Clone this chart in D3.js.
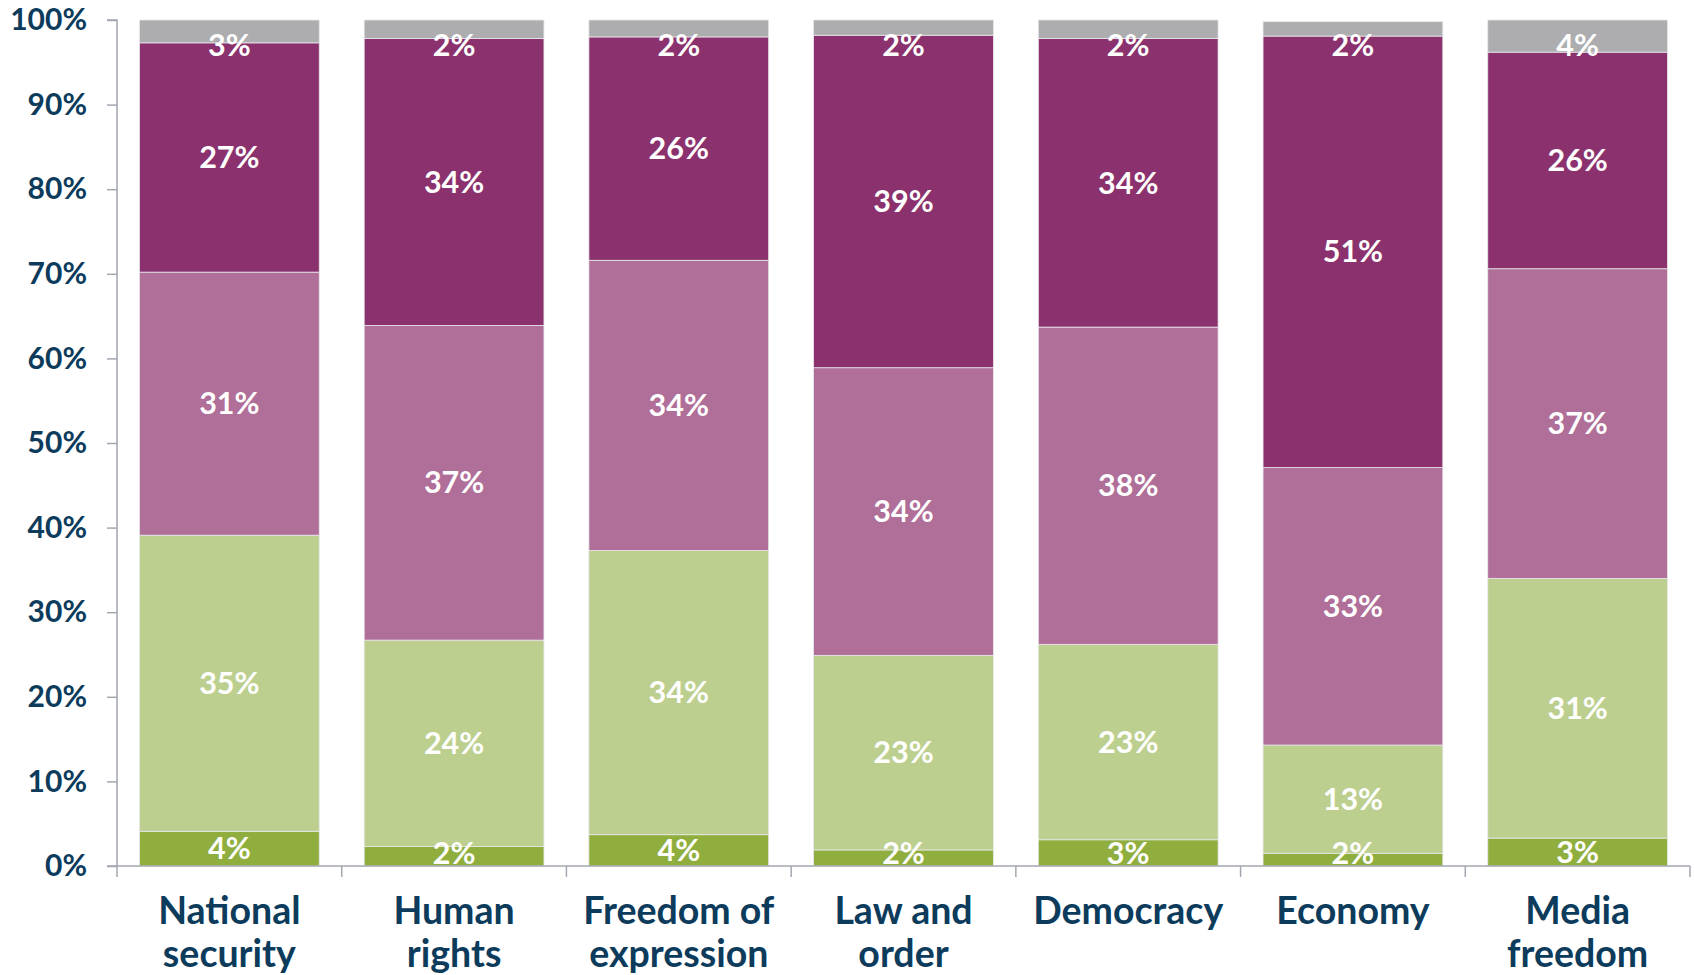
<!DOCTYPE html>
<html><head><meta charset="utf-8">
<script src="https://cdn.jsdelivr.net/npm/d3@7/dist/d3.min.js"></script>
<style>html,body{margin:0;padding:0;background:#fff;}svg{display:block;}</style>
</head><body>
<svg id="chart" width="1694" height="975"></svg>
<script>
const categories = [["National","security"],["Human","rights"],["Freedom of","expression"],["Law and","order"],["Democracy"],["Economy"],["Media","freedom"]];
const seriesNames = ["s1","s2","s3","s4","s5"];
const s1 = [4.1, 2.3, 3.7, 1.9, 3.1, 1.5, 3.3];
const s2 = [35.0, 24.4, 33.6, 23.0, 23.1, 12.8, 30.7];
const s3 = [31.1, 37.2, 34.3, 34.0, 37.5, 32.8, 36.6];
const s4 = [27.1, 33.9, 26.4, 39.3, 34.1, 51.0, 25.6];
const s5 = [2.7, 2.2, 2.0, 1.8, 2.2, 1.7, 3.8];
const colors = ["#90ae3e","#bdcf8f","#b06f98","#8b316d","#adadaf"];
const yTicks = [0,10,20,30,40,50,60,70,80,90,100];

const series = [s1,s2,s3,s4,s5];
const svg = d3.select("#chart");
const mLeft = 117, mRight = 1690, mTop = 20, mBottom = 866;
const font = "Lato, 'Open Sans', sans-serif";
const textColor = "#0c3b5c";
const axisColor = "#a3a7b0";

const x = d3.scaleBand().domain(d3.range(categories.length)).range([mLeft, mRight]).paddingInner(0.2).paddingOuter(0.1);
const xb = d3.scaleBand().domain(d3.range(categories.length)).range([mLeft, mRight]);
const y = d3.scaleLinear().domain([0,100]).range([mBottom, mTop]);

const stackData = categories.map((c,i) => {
  const o = {i};
  seriesNames.forEach((n,k) => o[n] = series[k][i]);
  return o;
});
const stacked = d3.stack().keys(seriesNames)(stackData);
const g = svg.append("g");
stacked.forEach((layer,k) => {
  g.selectAll(null).data(layer).enter().append("rect")
    .attr("x", d => x(d.data.i))
    .attr("width", x.bandwidth())
    .attr("y", d => y(d[1]))
    .attr("height", d => y(d[0]) - y(d[1]))
    .attr("fill", colors[k])
    .attr("stroke", "#e8e8ec").attr("stroke-width", 0.8);
});
stacked.forEach((layer,k) => {
  g.selectAll(null).data(layer).enter().append("text")
    .attr("x", d => x(d.data.i) + x.bandwidth()/2)
    .attr("y", d => {
      let c = (y(d[0]) + y(d[1]))/2;
      c = Math.max(c, mTop + 25);
      c = Math.min(c, mBottom - 13);
      return c;
    })
    .attr("dy", "0.35em")
    .attr("text-anchor", "middle")
    .attr("fill", "#fff")
    .attr("font-family", font).attr("font-weight", 700).attr("font-size", 30.5)
    .text(d => Math.round(d[1]-d[0]) + "%");
});

const yAxis = d3.axisLeft(y).tickValues(yTicks).tickFormat(d => d + "%").tickSize(10).tickPadding(20);
const ya = svg.append("g").attr("transform", `translate(${mLeft},0)`).call(yAxis);
ya.select(".domain").attr("stroke", axisColor).attr("stroke-width", 1.5).attr("d", `M-10,${mTop}H0V${mBottom}H-10`);
ya.selectAll(".tick line").attr("stroke", axisColor).attr("stroke-width", 1.5);
ya.selectAll(".tick text").attr("fill", textColor).attr("font-family", font).attr("font-weight", 700).attr("font-size", 30);

svg.append("line").attr("x1", mLeft).attr("x2", mRight).attr("y1", mBottom).attr("y2", mBottom)
  .attr("stroke", axisColor).attr("stroke-width", 1.5);
const bounds = d3.range(categories.length).map(i => xb(i)).concat([mRight]);
svg.selectAll(null).data(bounds).enter().append("line")
  .attr("x1", d => d).attr("x2", d => d).attr("y1", mBottom).attr("y2", mBottom + 11)
  .attr("stroke", axisColor).attr("stroke-width", 1.5);
const cl = svg.selectAll(null).data(categories).enter().append("text")
  .attr("text-anchor", "middle")
  .attr("fill", textColor).attr("font-family", font).attr("font-weight", 700).attr("font-size", 37.5)
  .attr("transform", (d,i) => `translate(${xb(i) + xb.bandwidth()/2},${924})`);
cl.selectAll("tspan").data(d => d).enter().append("tspan")
  .attr("x", 0).attr("dy", (d,j) => j === 0 ? 0 : 43).text(d => d);
</script>
</body></html>
